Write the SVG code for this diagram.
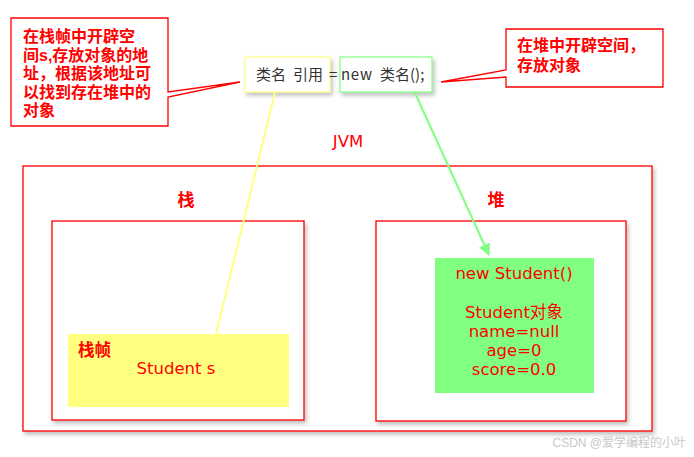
<svg xmlns="http://www.w3.org/2000/svg" width="694" height="457" viewBox="0 0 694 457">
<defs>
<filter id="sh" x="-10%" y="-10%" width="130%" height="130%">
<feDropShadow dx="2" dy="3" stdDeviation="2" flood-color="#000" flood-opacity="0.25"/>
</filter>
<marker id="ah" markerWidth="12" markerHeight="12" refX="11" refY="6" orient="auto" markerUnits="userSpaceOnUse">
<path d="M0,0 L12,6 L0,12 Z" fill="#80FF80"/>
</marker>
<style>
.red{fill:#FF0000;font-family:"Liberation Sans","Noto Sans CJK SC",sans-serif}
.cjk{font-weight:bold;font-size:16px}
.box{fill:#fff;stroke:#FF0000;stroke-width:1.3}
.lat{font-family:"DejaVu Sans","Noto Sans CJK SC",sans-serif;font-size:16.5px;fill:#FF0000}
.code{font-family:"Noto Sans CJK SC","Liberation Sans",sans-serif;font-size:15px;fill:#333}
</style>
</defs>
<rect width="694" height="457" fill="#fff"/>

<g id="callout-left">
<path d="M11,18 H168 V92 L240,82 L168,97 V126 H11 Z" class="box"/>
<text class="red cjk" x="23" y="42">在栈帧中开辟空</text>
<text class="red cjk" x="23" y="60.5">间s,存放对象的地</text>
<text class="red cjk" x="23" y="79">址，根据该地址可</text>
<text class="red cjk" x="23" y="97.5">以找到存在堆中的</text>
<text class="red cjk" x="23" y="116">对象</text>
</g>

<g id="callout-right">
<path d="M506,29 H663 V87 H506 V77 L441,82 L506,70 Z" class="box"/>
<text class="red cjk" x="517" y="51">在堆中开辟空间，</text>
<text class="red cjk" x="517" y="71">存放对象</text>
</g>

<g id="jvm">
<rect x="23" y="166" width="629" height="265" class="box" filter="url(#sh)"/>
<text class="lat" x="348" y="147" text-anchor="middle">JVM</text>
</g>

<g id="stack">
<rect x="52" y="221" width="252" height="199" class="box" filter="url(#sh)"/>
<text class="red" x="186" y="206" text-anchor="middle" font-weight="bold" font-size="17">栈</text>
</g>

<g id="heap">
<rect x="376" y="221" width="250" height="200" class="box" filter="url(#sh)"/>
<text class="red" x="496" y="206" text-anchor="middle" font-weight="bold" font-size="17">堆</text>
</g>

<g id="stackframe">
<rect x="68" y="334" width="221" height="73" fill="#FFFF80"/>
<text class="red" x="78" y="356" font-weight="bold" font-size="16.5">栈帧</text>
<text class="lat" x="176" y="374" text-anchor="middle">Student s</text>
</g>

<g id="object">
<rect x="435" y="258" width="159" height="135" fill="#80FF80"/>
<text class="lat" x="514" y="279" text-anchor="middle">new Student()</text>
<text class="lat" x="514" y="318" text-anchor="middle">Student对象</text>
<text class="lat" x="514" y="337" text-anchor="middle">name=null</text>
<text class="lat" x="514" y="356" text-anchor="middle">age=0</text>
<text class="lat" x="514" y="375" text-anchor="middle">score=0.0</text>
</g>

<g id="code">
<rect x="245" y="57" width="85" height="35" fill="#fff" stroke="#FFFF80" stroke-width="1.2" filter="url(#sh)"/>
<rect x="340" y="57" width="92" height="35" fill="#fff" stroke="#80FF80" stroke-width="1.2" filter="url(#sh)"/>
<text class="code" x="256" y="80">类名</text>
<text class="code" x="293" y="80">引用</text>
<text class="code" x="329" y="80">=</text>
<text class="code" x="341" y="80" textLength="31">new</text>
<text class="code" x="380" y="80">类名();</text>
</g>

<g id="connectors">
<line x1="275" y1="92" x2="216" y2="334" stroke="#FFFF80" stroke-width="2"/>
<line x1="415" y1="93" x2="489" y2="255" stroke="#80FF80" stroke-width="2" marker-end="url(#ah)"/>
</g>

<text x="686" y="447" text-anchor="end" font-family="'Liberation Sans','Noto Sans CJK SC',sans-serif" font-size="12" fill="#c8c8c8">CSDN @爱学编程的小叶</text>
</svg>
